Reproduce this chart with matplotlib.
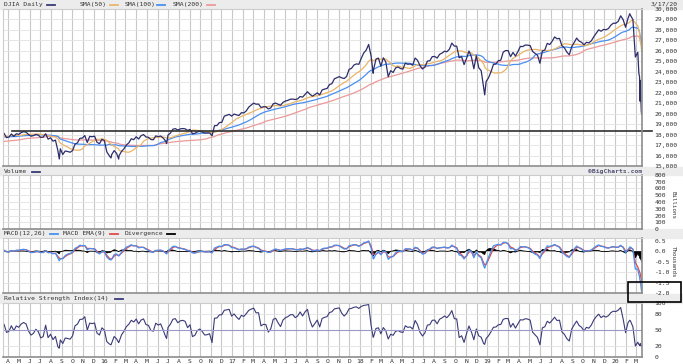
import numpy as np
import pandas as pd
import matplotlib
matplotlib.use('Agg')
import matplotlib.pyplot as plt
from matplotlib.patches import Rectangle
from matplotlib.lines import Line2D

# weekly (Friday) closes of the DJIA; 2014 only warms up the averages
c2014 = [16513, 16583, 16491, 16606, 16717, 16924, 16776, 16947, 16851,
         17068, 16944, 17100, 16961, 16493, 16553, 16663, 17001, 17098,
         17137, 16988, 17280, 17113, 17009, 16544, 16380, 16805, 17391,
         17573, 17634, 17810, 17828, 17958, 17280, 17804, 18053]
c2015 = [17833, 17737, 17511, 17672, 17165, 17824, 18019, 18140, 18133,
         17856, 17749, 18128, 17712, 17763, 18058, 17826, 18080,
         18024, 18191, 18273, 18232, 18011, 17849, 17898, 18015, 17947,
         17730, 17760, 18086, 17568, 17690, 17373, 17477, 16460, 16643,
         16102, 16433, 16385, 16315, 16472, 17084, 17216, 17646, 17664,
         17910, 17245, 17824, 17798, 17848, 17265, 17128, 17553, 17425]
c2016 = [16347, 15988, 16094, 16466, 16205, 15974, 16392, 16640,
         17007, 17213, 17602, 17516, 17793, 17577, 17898, 18004, 17774,
         17741, 17535, 17501, 17873, 17807, 17865, 17675, 17400,
         17949, 18147, 18517, 18571, 18432, 18544, 18577, 18553, 18395,
         18492, 18085, 18124, 18262, 18308, 18240, 18138, 18145, 18161,
         17888, 18847, 18868, 19152, 19171, 19757, 19843, 19934, 19763]
c2017 = [19964, 19886, 19827, 20094, 20071, 20269, 20624, 20822,
         21005, 20903, 20915, 20597, 20663, 20656, 20453, 20548, 20941,
         21007, 20897, 20805, 21080, 21206, 21272, 21384, 21395, 21350,
         21414, 21638, 21580, 21830, 22092, 21858, 21675, 21814,
         21988, 21798, 22268, 22350, 22405, 22773, 22871, 23329, 23434,
         23539, 23422, 23358, 23558, 24231, 24329, 24651, 24754, 24719]
c2018 = [25296, 25803, 26072, 26617, 25521, 24191, 25219, 25310,
         24538, 25336, 24947, 23533, 24103, 23933, 24360, 24463, 24311,
         24263, 24831, 24715, 24753, 24635, 25317, 25090, 24581, 24271,
         24456, 25019, 25058, 25451, 25463, 25313, 25669, 25790, 25965,
         25917, 26155, 26744, 26458, 26447, 25340, 25445, 24688,
         25271, 25989, 25414, 24286, 25538, 24389, 24101, 22445, 23062]
c2019 = [23433, 23996, 24706, 24737, 25064, 25106, 25883, 26031,
         26026, 25450, 25849, 25502, 25929, 26425, 26412, 26559, 26543,
         26505, 25942, 25764, 25586, 24815, 25984, 26090, 26719, 26600,
         26922, 27332, 27154, 27192, 26485, 26287, 25886, 25629, 26403,
         26797, 27220, 26935, 26820, 26573, 26817, 26770, 26958,
         27347, 27681, 28005, 27876, 28051, 28015, 28135, 28455, 28645]
c2020 = [28635, 28824, 29348, 28990, 28256, 29102, 29398, 28992, 25409,
         25865, 23186]

# single days that stick out of the weekly path (lows / spikes)
extra_dates = ['2015-08-24', '2015-08-25', '2016-01-20', '2016-02-11', '2016-06-27',
               '2018-02-08', '2018-12-24', '2020-02-12', '2020-03-09', '2020-03-11',
               '2020-03-12', '2020-03-16', '2020-03-17']
extra_close = [15871, 15666, 15766, 15660, 17140, 23860, 21792, 29551, 23851, 23553,
               21200, 20189, 19950]

hline_level = 18350
end_label = '3/17/20'

weekly = c2014 + c2015 + c2016 + c2017 + c2018 + c2019 + c2020
wdates = pd.date_range('2014-05-02', periods=len(weekly), freq='W-FRI')
s = pd.concat([pd.Series(weekly, index=wdates),
               pd.Series(extra_close, index=pd.to_datetime(extra_dates))]).sort_index()
s = s[~s.index.duplicated(keep='last')].astype(float)
t = s.index

# gaps between points, in trading days
gap = np.r_[1.0, np.diff(t.values).astype('timedelta64[D]').astype(float) * 5 / 7]


def ema(x, n, wilder=False):
    # EMA that steps over uneven gaps
    a = 1.0 / n if wilder else 2.0 / (n + 1)
    out = np.empty(len(x))
    prev = x[0]
    for i, v in enumerate(x):
        k = 1 - (1 - a) ** gap[i]
        prev = prev + k * (v - prev)
        out[i] = prev
    return pd.Series(out, index=t)


sma50 = s.rolling('70D').mean()
sma100 = s.rolling('140D').mean()
sma200 = s.rolling('280D').mean()

macd = (ema(s.values, 12) - ema(s.values, 26)) / 1000
sig = ema(macd.values, 9)
div = macd - sig

d = s.diff().fillna(0).values
gain = ema(np.clip(d, 0, None), 28, wilder=True)
loss = ema(np.clip(-d, 0, None), 28, wilder=True)
rsi = 100 - 100 / (1 + gain / loss)

# ---------------- figure ----------------
W, H = 683, 364
plt.rcParams['font.family'] = 'DejaVu Sans Mono'
fs = 4.6
txt = '#333333'
fig = plt.figure(figsize=(W / 100, H / 100), dpi=100)
fig.patch.set_facecolor('white')


def fx(x):
    return x / W


def fy(y):
    return 1 - y / H


def panel(top, bottom, left=3, right=642):
    return fig.add_axes([fx(left), fy(bottom), fx(right - left), (bottom - top) / H])


for a, b in [(0, 9), (167, 175), (229, 238), (294, 303)]:
    fig.patches.append(Rectangle((0, fy(b)), 1, (b - a) / H, transform=fig.transFigure,
                                 color='#ececec', zorder=-5))

xmin, xmax = pd.Timestamp('2015-03-17'), pd.Timestamp('2020-03-18')
months = pd.date_range('2015-04-01', '2020-03-01', freq='MS')
mlabels = ['%02d' % (m.year % 100) if m.month == 1 else 'JFMAMJJASOND'[m.month - 1] for m in months]

ax1 = panel(9, 166)
ax2 = panel(175, 229)
ax3 = panel(238, 293)
ax4 = panel(303, 357)

for ax in (ax1, ax2, ax3, ax4):
    ax.set_xlim(xmin, xmax)
    ax.set_xticks(months)
    ax.set_xticklabels([])
    ax.grid(axis='x', color='#c8c8c8', lw=0.8)
    ax.grid(axis='y', color='#e2e2e2', lw=0.6)
    ax.set_axisbelow(True)
    ax.yaxis.tick_right()
    ax.tick_params(length=0, labelsize=fs, labelcolor=txt, pad=9)
    for side in ('left', 'top'):
        ax.spines[side].set_color('#cccccc')
        ax.spines[side].set_linewidth(0.8)
    for side in ('right', 'bottom'):
        ax.spines[side].set_color('#8c8c8c')
        ax.spines[side].set_linewidth(1.2)

# price panel
ax1.plot(t, sma200, color='#ec9a9a', lw=0.9)
ax1.plot(t, sma100, color='#4a8ff0', lw=0.9)
ax1.plot(t, sma50, color='#eab56a', lw=0.9)
ax1.plot(t, s, color='#2d2d6b', lw=0.9)
ax1.set_ylim(15000, 30000)
ax1.set_yticks(range(15000, 30001, 1000))
ax1.set_yticklabels(['{:,}'.format(v) for v in range(15000, 30001, 1000)])
ax1.axhline(hline_level, xmin=(12 - 3) / 639, xmax=(652 - 3) / 639, color='#303030',
            lw=1.2, clip_on=False)

# volume panel (no data shown)
ax2.set_ylim(0, 800)
ax2.set_yticks(range(0, 801, 100))

# MACD panel
ax3.fill_between(t, div, 0, color='black', lw=0)
ax3.plot(t, div, color='black', lw=0.6)
ax3.plot(t, sig, color='#e04a4a', lw=0.9)
ax3.plot(t, macd, color='#4a8ff0', lw=0.9)
ax3.set_ylim(-2.0, 0.63)
mt = [0.5, 0.0, -0.5, -1.0, -1.5, -2.0]
ax3.set_yticks(mt)
ax3.set_yticklabels(['%.1f' % v for v in mt])

# RSI panel
ax4.plot(t, rsi, color='#3a3a78', lw=0.8)
ax4.axhline(50, color='#9a9ac8', lw=0.8)
ax4.set_ylim(0, 100)
ax4.set_yticks([0, 20, 50, 80, 100])
ax4.set_xticklabels(mlabels)
ax4.tick_params(axis='x', pad=1.5)

# headers and legends
def head(x, y, s_, color=txt, ha='left', **kw):
    fig.text(fx(x), fy(y), s_, fontsize=fs, color=color, ha=ha, va='center', **kw)


def key(x, y, color, w=8):
    fig.add_artist(Line2D([fx(x), fx(x + w)], [fy(y), fy(y)], color=color, lw=1.3))


head(4, 4.5, 'DJIA Daily')
key(47, 4.5, '#3a3a78')
head(80, 4.5, 'SMA(50)')
key(110, 4.5, '#eab56a')
head(125, 4.5, 'SMA(100)')
key(157, 4.5, '#4a8ff0')
head(173, 4.5, 'SMA(200)')
key(207, 4.5, '#ec9a9a')
head(651, 4, end_label)

head(4, 171.5, 'Volume')
key(32, 171.5, '#3a3a78')
head(642, 171.5, '\u00a9BigCharts.com', color='#555577', ha='right', fontweight='bold')

head(4, 233.5, 'MACD(12,26)')
key(50, 233.5, '#4a8ff0')
head(63, 233.5, 'MACD EMA(9)')
key(110, 233.5, '#e04a4a')
head(125, 233.5, 'Divergence')
key(167, 233.5, 'black')

head(4, 298.5, 'Relative Strength Index(14)')
key(115, 298.5, '#3a3a78')

fig.text(fx(673), fy(205), 'Billions', fontsize=fs - 0.4, color=txt, rotation=270,
         ha='center', va='center')
fig.text(fx(673), fy(262), 'Thousands', fontsize=fs - 0.4, color=txt, rotation=270,
         ha='center', va='center')

fig.patches.append(Rectangle((fx(628), fy(302)), fx(53), 20 / H, transform=fig.transFigure,
                             fill=False, ec='black', lw=1.2, zorder=5))

fig.savefig('out.png', dpi=100)
